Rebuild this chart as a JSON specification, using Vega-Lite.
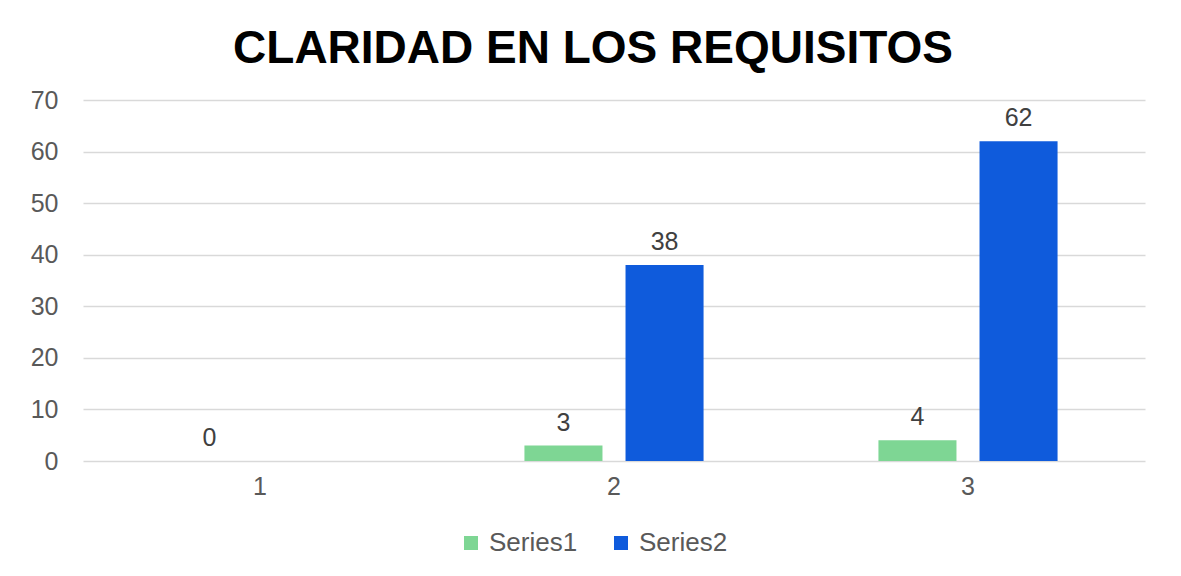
{
  "$schema": "https://vega.github.io/schema/vega-lite/v6.json",
  "autosize": "none",
  "width": 1062,
  "height": 361,
  "padding": {"left": 83, "top": 100, "right": 36, "bottom": 115},
  "background": "white",
  "config": {"view": {"stroke": null}},
  "title": {
    "text": "CLARIDAD EN LOS REQUISITOS",
    "font": "Liberation Sans",
    "fontSize": 46,
    "fontWeight": "bold",
    "color": "#000000",
    "anchor": "middle",
    "frame": "group",
    "dx": -21,
    "offset": 15
  },
  "data": {
    "values": [
      {"category": "1", "series": "Series1", "value": 0},
      {"category": "2", "series": "Series1", "value": 3},
      {"category": "2", "series": "Series2", "value": 38},
      {"category": "3", "series": "Series1", "value": 4},
      {"category": "3", "series": "Series2", "value": 62}
    ]
  },
  "encoding": {
    "x": {
      "field": "category",
      "type": "nominal",
      "scale": {"paddingInner": 0.494, "paddingOuter": 0.247},
      "axis": {
        "title": null,
        "labelAngle": 0,
        "labelFont": "Liberation Sans",
        "labelFontSize": 25,
        "labelColor": "#595959",
        "labelPadding": 13,
        "ticks": false,
        "domain": false,
        "grid": false
      }
    },
    "xOffset": {
      "field": "series",
      "type": "nominal",
      "scale": {"paddingInner": 0.228, "paddingOuter": 0}
    },
    "y": {
      "field": "value",
      "type": "quantitative",
      "scale": {"domain": [0, 70], "nice": false},
      "axis": {
        "title": null,
        "values": [0, 10, 20, 30, 40, 50, 60, 70],
        "labelFont": "Liberation Sans",
        "labelFontSize": 25,
        "labelColor": "#595959",
        "labelPadding": 25,
        "ticks": false,
        "domain": false,
        "grid": true,
        "gridColor": "#d9d9d9",
        "gridWidth": 1.5
      }
    }
  },
  "layer": [
    {
      "mark": {"type": "bar"},
      "encoding": {
        "color": {
          "field": "series",
          "type": "nominal",
          "scale": {"domain": ["Series1", "Series2"], "range": ["#7ed694", "#0f5bdc"]},
          "legend": {
            "title": null,
            "orient": "none",
            "direction": "horizontal",
            "legendX": 375,
            "legendY": 430,
            "symbolType": "square",
            "symbolSize": 196,
            "symbolStrokeWidth": 0,
            "labelFont": "Liberation Sans",
            "labelFontSize": 26,
            "labelColor": "#595959",
            "labelOffset": 5,
            "columnPadding": 30
          }
        }
      }
    },
    {
      "mark": {
        "type": "text",
        "baseline": "bottom",
        "dy": -10,
        "font": "Liberation Sans",
        "fontSize": 25,
        "color": "#404040"
      },
      "encoding": {
        "text": {"field": "value", "type": "quantitative"}
      }
    }
  ]
}
